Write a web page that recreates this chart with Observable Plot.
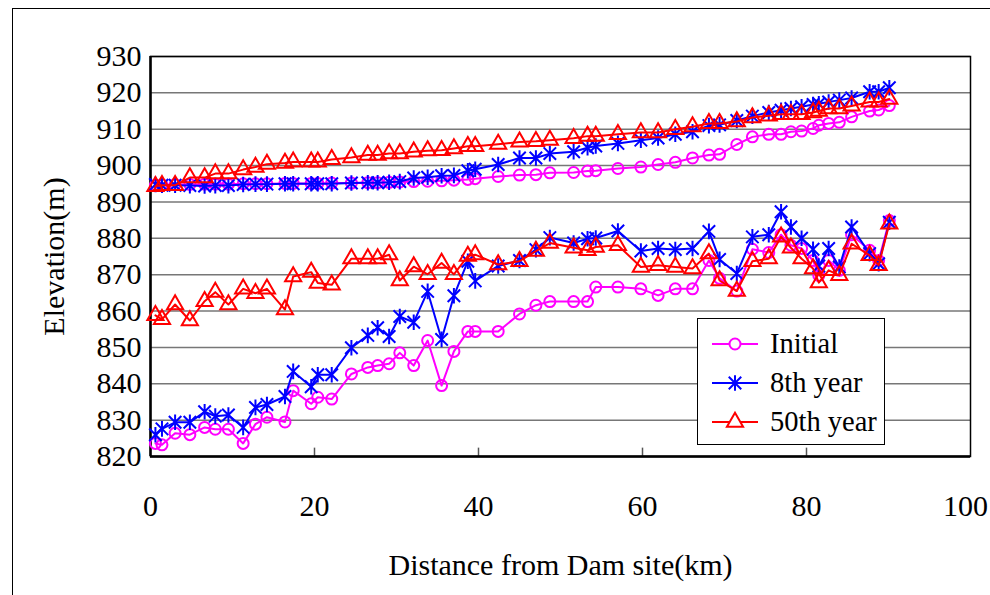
<!DOCTYPE html>
<html>
<head>
<meta charset="utf-8">
<script src="https://cdn.jsdelivr.net/npm/d3@7"></script>
<script src="https://cdn.jsdelivr.net/npm/@observablehq/plot@0.6"></script>
<style>
  html, body { margin: 0; padding: 0; background: white; }
  #wrap { position: relative; width: 990px; height: 595px; overflow: hidden; font-family: "Liberation Serif", "Times New Roman", serif; }
  #border { position: absolute; left: 12px; top: 8px; width: 990px; height: 600px; border-left: 1.5px solid #000; border-top: 1.5px solid #000; pointer-events: none; }
  #legend { position: absolute; left: 697px; top: 318px; width: 186px; height: 125px; border: 1.5px solid #000; background: white; }
  .row { position: absolute; left: 0; height: 38px; display: flex; align-items: center; }
  .row svg { margin-left: 12px; }
  .row span { margin-left: 10px; font-size: 28.5px; color: #000; }
</style>
</head>
<body>
<div id="wrap">
  <div id="chart"></div>
  <div id="border"></div>
  <div id="legend"></div>
</div>
<script>
// Cross-section distances from the dam (km)
const dist = [0.6, 1.4, 3.0, 4.8, 6.6, 7.9, 9.5, 11.3, 12.8, 14.2, 16.4, 17.4, 19.6, 20.4, 22.1, 24.5, 26.5, 27.7, 29.1, 30.4, 32.1, 33.8, 35.5, 37.0, 38.7, 39.6, 42.4, 45.0, 47.0, 48.7, 51.6, 53.3, 54.3, 57.0, 59.8, 61.9, 64.0, 66.1, 68.1, 69.4, 71.5, 73.4, 75.4, 76.9, 78.1, 79.4, 80.8, 81.5, 82.7, 84.0, 85.5, 87.7, 88.8, 90.1];

// Initial: water surface and bed
const initialWater = [894.6, 894.7, 894.8, 894.8, 894.9, 894.9, 894.9, 895.0, 895.0, 895.0, 895.1, 895.1, 895.1, 895.1, 895.2, 895.2, 895.3, 895.3, 895.4, 895.5, 895.6, 895.7, 895.8, 896.0, 896.2, 896.4, 897.0, 897.4, 897.5, 898.0, 898.1, 898.5, 898.6, 899.2, 899.6, 900.3, 900.9, 902.1, 902.9, 903.1, 905.8, 907.9, 908.6, 908.6, 909.3, 909.5, 910.2, 911.1, 911.6, 911.9, 913.4, 915.0, 915.3, 916.5];
const initialBed = [823.6, 823.2, 826.4, 826.0, 828.0, 827.5, 827.5, 823.6, 828.9, 830.8, 829.5, 838.1, 834.5, 836.3, 835.8, 842.7, 844.5, 845.0, 845.5, 848.5, 845.0, 851.9, 839.5, 848.9, 854.4, 854.4, 854.4, 859.2, 861.6, 862.6, 862.6, 862.6, 866.6, 866.6, 866.1, 864.3, 866.1, 866.1, 873.9, 869.0, 865.5, 877.0, 876.1, 881.0, 878.1, 877.2, 873.9, 869.8, 873.9, 871.2, 881.0, 876.7, 873.9, 884.9];

// 8th year: water surface and bed
const year8Water = [894.8, 894.6, 894.6, 894.5, 894.4, 894.5, 894.5, 894.8, 894.9, 894.9, 895.0, 895.0, 895.0, 895.0, 895.0, 895.2, 895.3, 895.3, 895.4, 895.6, 896.6, 896.8, 897.2, 897.3, 898.6, 899.0, 900.3, 902.1, 902.1, 903.3, 903.8, 904.9, 905.4, 906.1, 907.0, 907.6, 908.6, 909.3, 911.0, 911.2, 912.4, 913.6, 914.6, 915.2, 915.7, 916.2, 916.8, 917.0, 917.5, 918.0, 918.6, 920.3, 920.3, 921.4];
const year8Bed = [826.0, 827.6, 829.4, 829.4, 832.3, 831.1, 831.4, 828.0, 833.5, 834.3, 836.5, 843.4, 839.2, 842.5, 842.5, 849.9, 853.3, 855.4, 853.0, 858.5, 856.9, 865.4, 852.2, 864.2, 873.7, 868.3, 872.4, 873.9, 876.9, 880.2, 878.7, 879.9, 880.1, 882.0, 876.5, 877.2, 876.9, 877.2, 881.9, 874.2, 870.3, 880.4, 881.0, 887.3, 883.1, 880.0, 877.0, 872.4, 877.2, 872.1, 883.1, 875.8, 873.0, 884.4];

// 50th year: water surface and bed
const year50Water = [894.3, 894.6, 894.6, 896.7, 896.7, 897.8, 897.8, 898.9, 899.6, 900.4, 900.7, 901.0, 901.0, 901.0, 901.7, 902.2, 902.9, 902.9, 903.3, 903.3, 903.8, 904.1, 904.2, 904.7, 905.3, 905.3, 905.9, 906.5, 906.7, 907.0, 907.5, 908.1, 908.1, 908.6, 909.1, 909.1, 910.0, 910.7, 911.6, 911.6, 912.1, 913.2, 913.7, 914.1, 914.1, 914.1, 914.6, 915.0, 915.7, 915.7, 916.4, 917.5, 917.5, 918.3];
const year50Bed = [858.8, 857.7, 861.8, 857.4, 862.7, 865.2, 861.8, 866.1, 864.9, 866.1, 860.4, 869.5, 870.7, 867.7, 867.2, 874.4, 874.4, 874.4, 875.5, 868.4, 872.2, 870.1, 873.2, 870.1, 875.1, 875.5, 872.8, 873.7, 876.5, 878.7, 877.4, 876.7, 877.6, 878.1, 872.1, 872.6, 872.1, 871.7, 875.8, 868.4, 865.5, 873.7, 874.4, 880.4, 877.4, 874.4, 871.7, 867.8, 871.2, 869.8, 878.5, 875.3, 872.6, 884.0];

const seriesNames = ["Initial", "8th year", "50th year"];
const seriesColors = ["#FF00FF", "#0000FF", "#FF0000"];
const xTicks = [0, 20, 40, 60, 80];
const xTickLast = [100];
const yTicks = [820, 830, 840, 850, 860, 870, 880, 890, 900, 910, 920, 930];
const innerTicks = [20, 40, 60, 80];

// Excel-style star marker: vertical bar plus an X
const starSymbol = {
  draw(context, size) {
    const r = Math.sqrt(size / Math.PI);
    const d = r * 0.8;
    context.moveTo(0, -r); context.lineTo(0, r);
    context.moveTo(-d, -d); context.lineTo(d, d);
    context.moveTo(-d, d); context.lineTo(d, -d);
  }
};
const symbols = ["circle", starSymbol, "triangle"];
const radii = [5.5, 7.8, 6.0];

const toRows = (vals) => dist.map((d, i) => ({x: d, y: vals[i]}));
const groups = [
  [toRows(initialWater), toRows(initialBed)],
  [toRows(year8Water), toRows(year8Bed)],
  [toRows(year50Water), toRows(year50Bed)]
];

const marks = [
  Plot.ruleY(yTicks, {stroke: "#777", strokeWidth: 1.5}),
  Plot.ruleX(innerTicks, {y1: 820, y2: 822.3, stroke: "#555", strokeWidth: 1.5}),
  Plot.frame({stroke: "#000", strokeWidth: 1.5}),
  Plot.ruleX([0], {stroke: "#000", strokeWidth: 2.5}),
  Plot.ruleY([820], {stroke: "#000", strokeWidth: 2.5}),
  Plot.axisY({ticks: yTicks, tickSize: 0, tickPadding: 9, tickFormat: d3.format("d"),
    label: "Elevation(m)", labelAnchor: "center", labelArrow: "none", labelOffset: 108}),
  Plot.axisX({ticks: xTicks, tickSize: 0, tickPadding: 38, tickFormat: d3.format("d"),
    label: "Distance from Dam site(km)", labelAnchor: "center", labelArrow: "none", labelOffset: 118}),
  Plot.axisX({ticks: xTickLast, tickSize: 0, tickPadding: 38, tickFormat: d3.format("d"),
    label: null, dx: -5})
];
groups.forEach((pair, k) => {
  pair.forEach(rows => {
    marks.push(Plot.line(rows, {x: "x", y: "y", stroke: seriesColors[k], strokeWidth: 2}));
    marks.push(Plot.dot(rows, {x: "x", y: "y", symbol: () => symbols[k], r: radii[k], stroke: seriesColors[k], strokeWidth: 2, fill: "none"}));
  });
});

const chart = Plot.plot({
  width: 990,
  height: 595,
  marginLeft: 150,
  marginRight: 20,
  marginTop: 56,
  marginBottom: 139,
  x: {domain: [0, 100]},
  y: {domain: [820, 930]},
  style: {fontFamily: "'Liberation Serif', 'Times New Roman', serif", fontSize: "30px", color: "#000", background: "white", overflow: "visible"},
  marks
});
document.getElementById("chart").appendChild(chart);

// Legend
const legend = document.getElementById("legend");
seriesNames.forEach((name, k) => {
  const row = document.createElement("div");
  row.className = "row";
  row.style.top = (6 + k * 39) + "px";
  const svg = d3.create("svg").attr("width", 50).attr("height", 30);
  svg.append("line").attr("x1", 2).attr("x2", 48).attr("y1", 15).attr("y2", 15)
    .attr("stroke", seriesColors[k]).attr("stroke-width", 2);
  const sym = typeof symbols[k] === "string"
    ? {circle: d3.symbolCircle, triangle: d3.symbolTriangle}[symbols[k]]
    : symbols[k];
  svg.append("path").attr("transform", "translate(25,15)")
    .attr("d", d3.symbol(sym, Math.PI * radii[k] * radii[k])())
    .attr("fill", "white").attr("stroke", seriesColors[k]).attr("stroke-width", 2);
  row.appendChild(svg.node());
  const span = document.createElement("span");
  span.textContent = name;
  row.appendChild(span);
  legend.appendChild(row);
});
</script>
</body>
</html>
